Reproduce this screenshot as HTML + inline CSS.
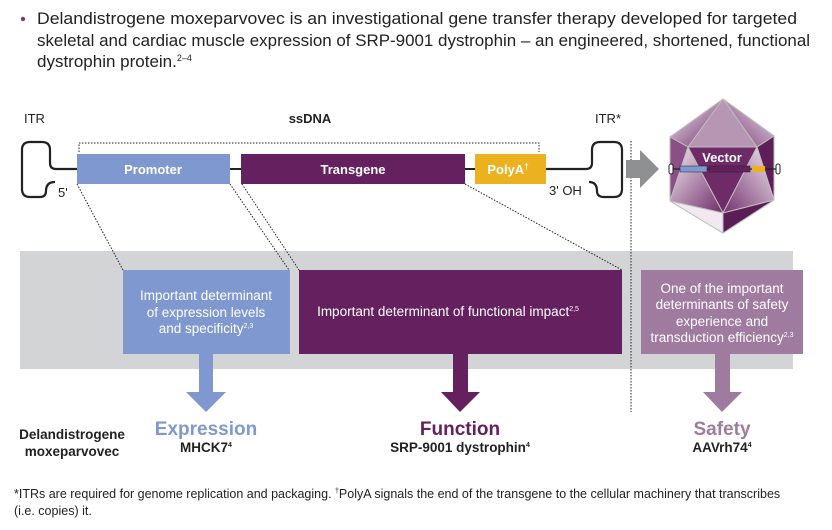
<!DOCTYPE html>
<html><head><meta charset="utf-8"><style>
html,body{margin:0;padding:0;background:#fff;}
svg{display:block;font-family:"Liberation Sans",Arial,sans-serif;}
</style></head><body>
<svg width="832" height="530" viewBox="0 0 832 530" xmlns="http://www.w3.org/2000/svg">
<defs>
<linearGradient id="g1" x1="0" y1="0" x2="1" y2="1"><stop offset="0" stop-color="#f4eef4"/><stop offset="1" stop-color="#6e2a68"/></linearGradient>
<linearGradient id="g2" x1="1" y1="0" x2="0" y2="1"><stop offset="0" stop-color="#f2eaf2"/><stop offset="1" stop-color="#74306d"/></linearGradient>
<linearGradient id="g3" x1="0" y1="0" x2="0" y2="1"><stop offset="0" stop-color="#6b2865"/><stop offset="1" stop-color="#a784a4"/></linearGradient>
</defs>
<!-- header -->
<circle cx="23" cy="19" r="2.2" fill="#7a3a7a"/>
<g font-size="17" fill="#222">
<text x="37" y="24" textLength="760" lengthAdjust="spacingAndGlyphs">Delandistrogene moxeparvovec is an investigational gene transfer therapy developed for targeted</text>
<text x="37" y="46" textLength="773" lengthAdjust="spacingAndGlyphs">skeletal and cardiac muscle expression of SRP-9001 dystrophin – an engineered, shortened, functional</text>
<text x="37" y="67">dystrophin protein.<tspan font-size="9" dy="-6">2–4</tspan></text>
</g>
<!-- gray band -->
<rect x="20" y="251" width="773" height="118" fill="#d3d4d6"/>
<!-- labels -->
<text x="24" y="123" font-size="13" fill="#222">ITR</text>
<text x="310" y="123" font-size="13" font-weight="bold" fill="#222" text-anchor="middle">ssDNA</text>
<text x="595" y="123" font-size="13" fill="#222">ITR*</text>
<text x="58" y="197" font-size="13" fill="#222">5'</text>
<text x="549" y="195" font-size="13" fill="#222">3' OH</text>
<!-- bracket -->
<path d="M79 152 V143 H539 V152" fill="none" stroke="#222" stroke-width="1" stroke-dasharray="1.5,1.5"/>
<!-- left ITR -->
<path d="M77 169 H56 Q50 169 50 163 V150 Q50 142 42 142 H30 Q22 142 22 150 V189 Q22 197 30 197 H40 Q46 197 46 191 Q46 182 55 182" fill="none" stroke="#222" stroke-width="2.2"/>
<!-- main line -->
<line x1="230" y1="169" x2="241" y2="169" stroke="#222" stroke-width="2"/>
<line x1="465" y1="169" x2="475" y2="169" stroke="#222" stroke-width="2"/>
<path d="M546 169 H586 Q592 169 592 163 V150 Q592 142 600 142 H614 Q622 142 622 150 V189 Q622 197 614 197 H604 Q597 197 597 191 Q597 182 589 182" fill="none" stroke="#222" stroke-width="2.2"/>
<!-- boxes -->
<rect x="77" y="154" width="153" height="30" fill="#7f98cf"/>
<text x="153" y="174" font-size="13" font-weight="bold" fill="#fff" text-anchor="middle">Promoter</text>
<rect x="241" y="154" width="224" height="30" fill="#65205f"/>
<text x="353" y="174" font-size="13" font-weight="bold" fill="#fff" text-anchor="middle">Transgene</text>
<rect x="475" y="154" width="71" height="30" fill="#ecb11f"/>
<text x="508" y="174" font-size="13" font-weight="bold" fill="#fff" text-anchor="middle">PolyA<tspan font-size="8" dy="-5">†</tspan></text>
<!-- dotted connectors -->
<g stroke="#222" stroke-width="1" stroke-dasharray="1.5,1.5">
<line x1="77" y1="184" x2="123" y2="270"/>
<line x1="230" y1="184" x2="289" y2="270"/>
<line x1="242" y1="184" x2="299" y2="270"/>
<line x1="465" y1="184" x2="622" y2="270"/>
<line x1="631" y1="141" x2="631" y2="412"/>
</g>
<!-- gray arrow -->
<path d="M626 160 H640 V150 L659 169 L640 188 V178 H626 Z" fill="#8f9092"/>
<!-- vector -->
<g stroke="#bdbdbd" stroke-width="1">
<polygon points="723,99 774,136 774,200 723,233 670,201 670,137" fill="url(#g3)"/>
<polygon points="723,99 670,137 688,147" fill="url(#g1)"/>
<polygon points="723,99 774,136 757,147" fill="url(#g2)"/>
<polygon points="723,99 688,147 757,147" fill="#b796b4"/>
<polygon points="688,147 757,147 723,213" fill="#6e2b68"/>
<polygon points="670,137 688,147 670,201" fill="#8a5085"/>
<polygon points="774,136 757,147 774,200" fill="#5e1f59"/>
<polygon points="688,147 670,201 723,213" fill="url(#g1)"/>
<polygon points="757,147 774,200 723,213" fill="url(#g2)"/>
<polygon points="670,201 723,213 723,233" fill="#f1e8f0"/>
<polygon points="774,200 723,213 723,233" fill="#5a1d56"/>
</g>
<text x="722" y="162" font-size="13" font-weight="bold" fill="#fff" text-anchor="middle">Vector</text>
<line x1="671" y1="169" x2="776" y2="169" stroke="#222" stroke-width="1.2"/>
<rect x="669" y="164" width="4" height="10" rx="2" fill="#fff" stroke="#222"/>
<rect x="776" y="164" width="4" height="10" rx="2" fill="#fff" stroke="#222"/>
<rect x="680" y="166" width="27" height="6" fill="#7f98cf" stroke="#222" stroke-width="0.5"/>
<rect x="709" y="166" width="41" height="6" fill="#65205f" stroke="#222" stroke-width="0.5"/>
<rect x="752" y="166" width="13" height="6" fill="#ecb11f"/>
<!-- lower boxes -->
<rect x="123" y="270" width="167" height="84" fill="#7f98cf"/>
<g font-size="13.5" fill="#fff" text-anchor="middle">
<text x="206" y="300">Important determinant</text>
<text x="206" y="317">of expression levels</text>
<text x="206" y="333">and specificity<tspan font-size="7" dy="-5">2,3</tspan></text>
</g>
<rect x="299" y="270" width="323" height="84" fill="#65205f"/>
<text x="448" y="316" font-size="13.5" fill="#fff" text-anchor="middle">Important determinant of functional impact<tspan font-size="7" dy="-5">2,5</tspan></text>
<rect x="641" y="270" width="162" height="84" fill="#9f7b9f"/>
<g font-size="13.5" fill="#fff" text-anchor="middle">
<text x="722" y="293">One of the important</text>
<text x="722" y="309">determinants of safety</text>
<text x="722" y="326">experience and</text>
<text x="722" y="342">transduction efficiency<tspan font-size="7" dy="-5">2,3</tspan></text>
</g>
<!-- arrows -->
<path d="M199 354 H213 V392 H226 L206 412 L186 392 H199 Z" fill="#7f98cf"/>
<path d="M453 354 H468 V392 H480 L460 412 L441 392 H453 Z" fill="#65205f"/>
<path d="M715 354 H730 V392 H742 L722 412 L703 392 H715 Z" fill="#9f7b9f"/>
<!-- bottom labels -->
<g font-weight="bold" text-anchor="middle">
<text x="206" y="435" font-size="19" fill="#7f98cf">Expression</text>
<text x="206" y="452" font-size="13.5" fill="#222">MHCK7<tspan font-size="7" dy="-5">4</tspan></text>
<text x="460" y="435" font-size="19" fill="#65205f">Function</text>
<text x="460" y="452" font-size="13.5" fill="#222">SRP-9001 dystrophin<tspan font-size="7" dy="-5">4</tspan></text>
<text x="722" y="435" font-size="19" fill="#9f7b9f">Safety</text>
<text x="722" y="452" font-size="13.5" fill="#222">AAVrh74<tspan font-size="7" dy="-5">4</tspan></text>
<text x="72" y="439" font-size="13.5" fill="#222">Delandistrogene</text>
<text x="72" y="456" font-size="13.5" fill="#222">moxeparvovec</text>
</g>
<g font-size="12.5" fill="#222">
<text x="14" y="498">*ITRs are required for genome replication and packaging. <tspan font-size="7" dy="-5">†</tspan><tspan dy="5">PolyA signals the end of the transgene to the cellular machinery that transcribes</tspan></text>
<text x="14" y="515">(i.e. copies) it.</text>
</g>
</svg>
</body></html>
